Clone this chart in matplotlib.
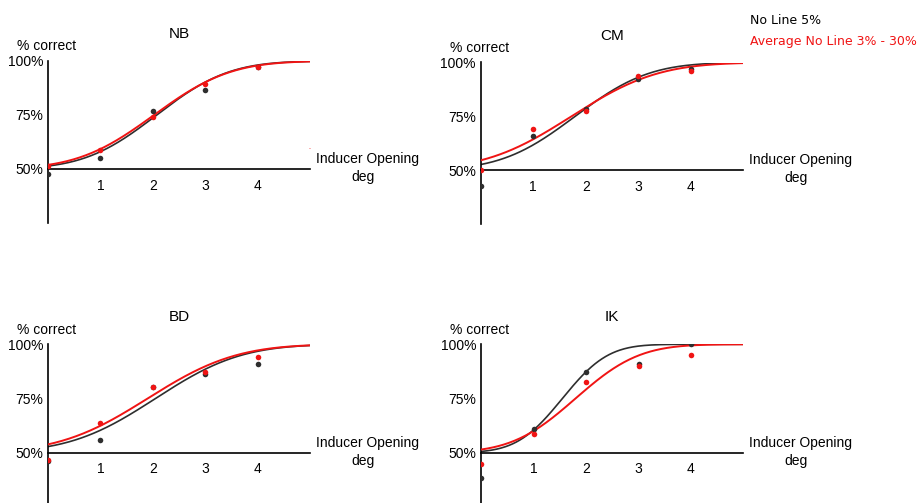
import math
import numpy as np
import matplotlib
matplotlib.use("Agg")
import matplotlib.pyplot as plt

# Psychometric data: percent correct versus inducer opening (deg)
subjects = ["NB", "CM", "BD", "IK"]
openings = [0, 1, 2, 3, 4]

# "No Line 5%" condition (black)
noline_nb = [47.7, 54.9, 76.8, 86.7, 97.2]
noline_cm = [42.7, 65.7, 78.4, 92.2, 97.0]
noline_bd = [46.3, 55.9, 80.1, 86.3, 90.8]
noline_ik = [38.2, 60.8, 87.1, 91.1, 100.0]

# "Average No Line 3% - 30%" condition (red)
avg_nb = [51.2, 58.6, 74.3, 89.4, 97.4]
avg_cm = [50.0, 68.9, 77.3, 93.8, 96.2]
avg_bd = [46.5, 63.8, 80.1, 87.2, 94.2]
avg_ik = [44.6, 58.4, 82.5, 90.2, 95.1]

# Fitted cumulative-Gaussian parameters (threshold mu, spread sigma), per subject
fit_noline_mu = [2.07, 1.80, 2.05, 1.55]
fit_noline_sigma = [1.08, 1.10, 1.28, 0.68]
fit_avg_mu = [2.02, 1.73, 1.90, 1.80]
fit_avg_sigma = [1.14, 1.29, 1.32, 0.95]

noline_pts = [noline_nb, noline_cm, noline_bd, noline_ik]
avg_pts = [avg_nb, avg_cm, avg_bd, avg_ik]

BLACK = "#2e2e2e"
RED = "#f01414"
FONT = "Liberation Sans"

erf = np.vectorize(math.erf)


def psychometric(x, mu, sigma):
    """2AFC cumulative Gaussian running from 50% to 100%."""
    return 50.0 + 50.0 * 0.5 * (1.0 + erf((x - mu) / (sigma * math.sqrt(2.0))))


fig = plt.figure(figsize=(9.2, 5.03), dpi=100)
W, H = 920.0, 503.0

# panel layout: (left spine x, pixel row of 100%, pixel row of 50%)
panels = [(48.0, 61.0, 169.0), (480.7, 62.5, 170.0),
          (48.0, 344.3, 452.5), (481.0, 344.3, 452.7)]
unit_px = 52.5  # pixels per degree

xs = np.linspace(0, 5, 300)

for i, (x0, y100, y50) in enumerate(panels):
    px_per_pct = (y50 - y100) / 50.0
    y25 = y50 + 25 * px_per_pct
    ax = fig.add_axes([x0 / W, 1 - y25 / H, 5 * unit_px / W, (y25 - y100) / H])
    ax.set_xlim(0, 5)
    ax.set_ylim(25, 100)
    ax.patch.set_alpha(0)

    for side in ("top", "right"):
        ax.spines[side].set_visible(False)
    ax.spines["bottom"].set_position(("data", 50))
    ax.spines["left"].set_linewidth(1.2)
    ax.spines["bottom"].set_linewidth(1.2)

    ax.set_xticks([1, 2, 3, 4])
    ax.set_xticklabels(["1", "2", "3", "4"], fontfamily=FONT, fontsize=10)
    ax.set_yticks([50, 75, 100])
    ax.set_yticklabels(["50%", "75%", "100%"], fontfamily=FONT, fontsize=10)
    ax.tick_params(axis="x", length=0, pad=7)
    ax.tick_params(axis="y", length=0, pad=3.5)

    ax.plot(xs, psychometric(xs, fit_noline_mu[i], fit_noline_sigma[i]),
            color=BLACK, lw=1.2, zorder=2)
    ax.plot(xs, psychometric(xs, fit_avg_mu[i], fit_avg_sigma[i]),
            color=RED, lw=1.4, zorder=3)
    ax.plot(openings, noline_pts[i], "o", color=BLACK, ms=4, mec="none", zorder=4)
    ax.plot(openings, avg_pts[i], "o", color=RED, ms=4, mec="none", zorder=5)

    ax.text(2.5, 112.5, subjects[i], ha="center", va="center",
            fontfamily=FONT, fontsize=11, clip_on=False)
    ax.text(-0.03, 106.8, "% correct", ha="center", va="center",
            fontfamily=FONT, fontsize=10, clip_on=False)
    ax.text(6.09, 54.6, "Inducer Opening", ha="center", va="center",
            fontfamily=FONT, fontsize=10, clip_on=False)
    ax.text(6.0, 46.2, "deg", ha="center", va="center",
            fontfamily=FONT, fontsize=10, clip_on=False)

# stray red stroke beside the first panel's axis label
fig.text(310 / W, 1 - 149 / H, "-", color=RED, fontsize=4, ha="center", va="center")

fig.text(750 / W, 1 - 21 / H, "No Line 5%", color="black",
         fontfamily="DejaVu Sans", fontsize=9, ha="left", va="center")
fig.text(750 / W, 1 - 42 / H, "Average No Line 3% - 30%", color=RED,
         fontfamily="DejaVu Sans", fontsize=9, ha="left", va="center")

fig.savefig("out.png", dpi=100, facecolor="white")
